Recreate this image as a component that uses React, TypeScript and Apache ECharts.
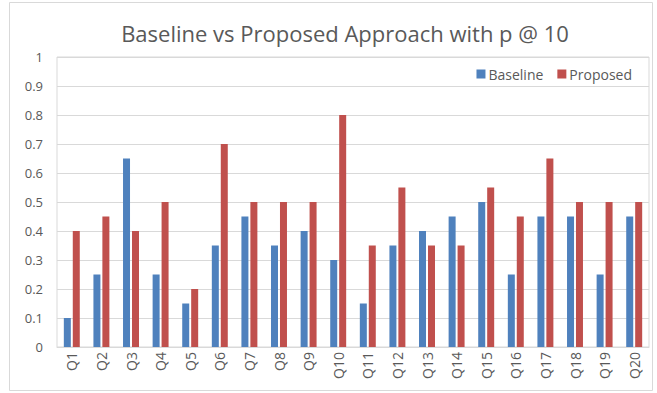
import React, { useEffect, useRef } from "react";
import * as echarts from "echarts";

const categories = [
  "Q1", "Q2", "Q3", "Q4", "Q5", "Q6", "Q7", "Q8", "Q9", "Q10",
  "Q11", "Q12", "Q13", "Q14", "Q15", "Q16", "Q17", "Q18", "Q19", "Q20",
];
const baseline = [
  0.1, 0.25, 0.65, 0.25, 0.15, 0.35, 0.45, 0.35, 0.4, 0.3,
  0.15, 0.35, 0.4, 0.45, 0.5, 0.25, 0.45, 0.45, 0.25, 0.45,
];
const proposed = [
  0.4, 0.45, 0.4, 0.5, 0.2, 0.7, 0.5, 0.5, 0.5, 0.8,
  0.35, 0.55, 0.35, 0.35, 0.55, 0.45, 0.65, 0.5, 0.5, 0.5,
];

const FONT = "'Open Sans', 'Noto Sans', sans-serif";
const TEXT = "#595959";
const LINE = "#d9d9d9";

export default function App() {
  const ref = useRef<HTMLDivElement>(null);

  useEffect(() => {
    if (!ref.current) return;
    const chart = echarts.init(ref.current, undefined, { renderer: "svg" });
    chart.setOption({
      animation: false,
      backgroundColor: "#ffffff",
      textStyle: { fontFamily: FONT },
      title: {
        text: "Baseline vs Proposed Approach with p @ 10",
        left: 340,
        textAlign: "center",
        top: 17,
        textStyle: { fontFamily: FONT, fontSize: 22, fontWeight: "normal", color: TEXT },
      },
      legend: {
        right: 20,
        top: 62,
        itemWidth: 9,
        itemHeight: 9,
        itemGap: 14,
        icon: "rect",
        textStyle: { fontFamily: FONT, fontSize: 14, color: TEXT, padding: [0, 0, 0, -2] },
        data: ["Baseline", "Proposed"],
      },
      graphic: [
        {
          type: "rect",
          shape: { x: 9.5, y: 2.5, width: 643, height: 388 },
          style: { fill: "none", stroke: LINE, lineWidth: 1 },
          silent: true,
          z: -1,
        },
      ],
      grid: {
        left: 57,
        right: 8,
        top: 57,
        bottom: 46,
        show: true,
        borderColor: LINE,
        borderWidth: 1,
      },
      xAxis: {
        type: "category",
        data: categories,
        axisLine: { lineStyle: { color: LINE } },
        axisTick: { show: false },
        axisLabel: {
          rotate: 90,
          fontFamily: FONT,
          fontSize: 14,
          color: TEXT,
          margin: 5,
        },
      },
      yAxis: {
        type: "value",
        min: 0,
        max: 1,
        interval: 0.1,
        axisLine: { show: false },
        axisTick: { show: false },
        splitLine: { lineStyle: { color: LINE } },
        axisLabel: {
          fontFamily: FONT,
          fontSize: 13,
          color: TEXT,
          margin: 14,
          formatter: (v: number) => String(Math.round(v * 10) / 10),
        },
      },
      series: [
        {
          name: "Baseline",
          type: "bar",
          data: baseline,
          barWidth: 7,
          barGap: "28%",
          itemStyle: { color: "#4F81BD" },
        },
        {
          name: "Proposed",
          type: "bar",
          data: proposed,
          barWidth: 7,
          itemStyle: { color: "#C0504D" },
        },
      ],
    });
    return () => chart.dispose();
  }, []);

  return <div ref={ref} style={{ width: 657, height: 393, position: "absolute", left: 0, top: 0 }} />;
}
